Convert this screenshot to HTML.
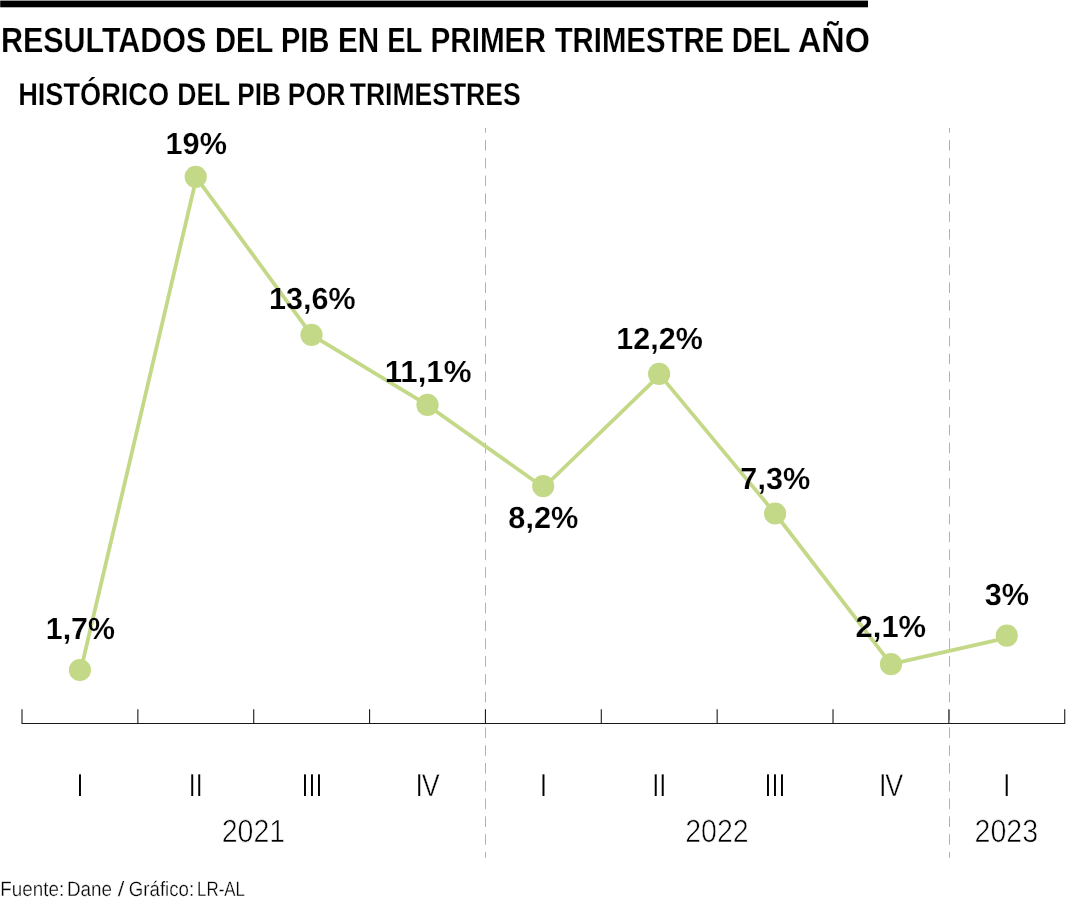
<!DOCTYPE html>
<html lang="es">
<head>
<meta charset="utf-8">
<title>Resultados del PIB en el primer trimestre del año</title>
<style>
html,body{margin:0;padding:0;background:#fff;}
body{width:1080px;height:900px;overflow:hidden;}
svg{display:block;font-family:"Liberation Sans",Arial,sans-serif;text-rendering:geometricPrecision;}
</style>
</head>
<body>
<svg width="1080" height="900" viewBox="0 0 1080 900">
<rect x="0" y="0" width="1080" height="900" fill="#fff"/>
<rect x="0.2" y="0.6" width="867.8" height="6.7" fill="#000"/>
<text y="52.0" font-size="34.88" font-weight="bold" fill="#000" stroke="#fff" stroke-width="0.18"><tspan x="0.95" textLength="205.36" lengthAdjust="spacingAndGlyphs">RESULTADOS</tspan> <tspan x="215.06" textLength="57.8" lengthAdjust="spacingAndGlyphs">DEL</tspan> <tspan x="281.05" textLength="48.29" lengthAdjust="spacingAndGlyphs">PIB</tspan> <tspan x="338.01" textLength="41.07" lengthAdjust="spacingAndGlyphs">EN</tspan> <tspan x="387.18" textLength="34.68" lengthAdjust="spacingAndGlyphs">EL</tspan> <tspan x="430.4" textLength="115.46" lengthAdjust="spacingAndGlyphs">PRIMER</tspan> <tspan x="554.66" textLength="169.48" lengthAdjust="spacingAndGlyphs">TRIMESTRE</tspan> <tspan x="731.64" textLength="58.22" lengthAdjust="spacingAndGlyphs">DEL</tspan> <tspan x="798.0" textLength="71.85" lengthAdjust="spacingAndGlyphs">AÑO</tspan></text>
<text y="104.6" font-size="31.69" font-weight="bold" fill="#000" stroke="#fff" stroke-width="0.18"><tspan x="18.16" textLength="150.96" lengthAdjust="spacingAndGlyphs">HISTÓRICO</tspan> <tspan x="177.22" textLength="52.61" lengthAdjust="spacingAndGlyphs">DEL</tspan> <tspan x="237.23" textLength="43.57" lengthAdjust="spacingAndGlyphs">PIB</tspan> <tspan x="287.8" textLength="57.66" lengthAdjust="spacingAndGlyphs">POR</tspan> <tspan x="349.69" textLength="170.99" lengthAdjust="spacingAndGlyphs">TRIMESTRES</tspan></text>
<line x1="485.5" y1="127.8" x2="485.5" y2="857.8" stroke="#b2b2b2" stroke-width="1" stroke-dasharray="10.6 7.2" stroke-dashoffset="5.6"/>
<line x1="949.5" y1="127.8" x2="949.5" y2="857.8" stroke="#b2b2b2" stroke-width="1" stroke-dasharray="10.6 7.2" stroke-dashoffset="5.6"/>
<path d="M22.0 723.5H1064.74M22.0 709.3V724.0M137.86 709.3V724.0M253.72 709.3V724.0M369.58 709.3V724.0M485.44 709.3V724.0M601.3 709.3V724.0M717.16 709.3V724.0M833.02 709.3V724.0M948.88 709.3V724.0M1064.74 709.3V724.0" fill="none" stroke="#1a1a1a" stroke-width="1.1"/>
<polyline fill="none" stroke="#c4d987" stroke-width="3.8" stroke-linejoin="round" points="80.8,670.0 196.4,177.7 311.5,334.8 427.5,405.2 543.6,487.5 659.9,374.9 775.1,513.5 891.0,664.2 1006.8,637.9"/>
<circle cx="79.9" cy="670.0" r="11.1" fill="#c4d987"/>
<circle cx="195.7" cy="176.8" r="11.1" fill="#c4d987"/>
<circle cx="311.5" cy="334.8" r="11.1" fill="#c4d987"/>
<circle cx="427.5" cy="404.9" r="11.1" fill="#c4d987"/>
<circle cx="543.2" cy="486.1" r="11.1" fill="#c4d987"/>
<circle cx="659.1" cy="373.9" r="11.1" fill="#c4d987"/>
<circle cx="775.1" cy="513.5" r="11.1" fill="#c4d987"/>
<circle cx="891.0" cy="664.2" r="11.1" fill="#c4d987"/>
<circle cx="1006.8" cy="635.6" r="11.1" fill="#c4d987"/>
<text x="45.81" y="638.6" font-size="30.52" font-weight="bold" fill="#000" textLength="69.17" lengthAdjust="spacingAndGlyphs" stroke="#fff" stroke-width="0.18">1,7%</text>
<text x="165.59" y="154.4" font-size="30.52" font-weight="bold" fill="#000" textLength="61.29" lengthAdjust="spacingAndGlyphs" stroke="#fff" stroke-width="0.18">19%</text>
<text x="269.1" y="308.5" font-size="30.52" font-weight="bold" fill="#000" textLength="86.45" lengthAdjust="spacingAndGlyphs" stroke="#fff" stroke-width="0.18">13,6%</text>
<text x="384.65" y="382.0" font-size="30.52" font-weight="bold" fill="#000" textLength="86.81" lengthAdjust="spacingAndGlyphs" stroke="#fff" stroke-width="0.18">11,1%</text>
<text x="508.33" y="528.1" font-size="30.52" font-weight="bold" fill="#000" textLength="70.06" lengthAdjust="spacingAndGlyphs" stroke="#fff" stroke-width="0.18">8,2%</text>
<text x="616.3" y="349.4" font-size="30.52" font-weight="bold" fill="#000" textLength="86.45" lengthAdjust="spacingAndGlyphs" stroke="#fff" stroke-width="0.18">12,2%</text>
<text x="740.37" y="488.6" font-size="30.52" font-weight="bold" fill="#000" textLength="69.82" lengthAdjust="spacingAndGlyphs" stroke="#fff" stroke-width="0.18">7,3%</text>
<text x="855.61" y="636.7" font-size="30.52" font-weight="bold" fill="#000" textLength="70.49" lengthAdjust="spacingAndGlyphs" stroke="#fff" stroke-width="0.18">2,1%</text>
<text x="984.73" y="604.7" font-size="30.52" font-weight="bold" fill="#000" textLength="44.38" lengthAdjust="spacingAndGlyphs" stroke="#fff" stroke-width="0.18">3%</text>
<text y="795.8" font-size="31.5" fill="#000"><tspan x="77.02" textLength="5.96" lengthAdjust="spacingAndGlyphs">I</tspan></text>
<text y="795.8" font-size="31.5" fill="#000"><tspan x="189.32" textLength="5.96" lengthAdjust="spacingAndGlyphs">I</tspan><tspan x="196.32" textLength="5.96" lengthAdjust="spacingAndGlyphs">I</tspan></text>
<text y="795.8" font-size="31.5" fill="#000"><tspan x="301.92" textLength="5.96" lengthAdjust="spacingAndGlyphs">I</tspan><tspan x="308.92" textLength="5.96" lengthAdjust="spacingAndGlyphs">I</tspan><tspan x="315.92" textLength="5.96" lengthAdjust="spacingAndGlyphs">I</tspan></text>
<text y="795.8" font-size="31.5" fill="#000"><tspan x="416.32" textLength="5.96" lengthAdjust="spacingAndGlyphs">I</tspan><tspan x="421.73" textLength="17.94" lengthAdjust="spacingAndGlyphs" stroke="#fff" stroke-width="0.5">V</tspan></text>
<text y="795.8" font-size="31.5" fill="#000"><tspan x="540.42" textLength="5.96" lengthAdjust="spacingAndGlyphs">I</tspan></text>
<text y="795.8" font-size="31.5" fill="#000"><tspan x="652.72" textLength="5.96" lengthAdjust="spacingAndGlyphs">I</tspan><tspan x="659.72" textLength="5.96" lengthAdjust="spacingAndGlyphs">I</tspan></text>
<text y="795.8" font-size="31.5" fill="#000"><tspan x="765.12" textLength="5.96" lengthAdjust="spacingAndGlyphs">I</tspan><tspan x="772.12" textLength="5.96" lengthAdjust="spacingAndGlyphs">I</tspan><tspan x="779.12" textLength="5.96" lengthAdjust="spacingAndGlyphs">I</tspan></text>
<text y="795.8" font-size="31.5" fill="#000"><tspan x="879.72" textLength="5.96" lengthAdjust="spacingAndGlyphs">I</tspan><tspan x="885.13" textLength="17.94" lengthAdjust="spacingAndGlyphs" stroke="#fff" stroke-width="0.5">V</tspan></text>
<text y="795.8" font-size="31.5" fill="#000"><tspan x="1003.82" textLength="5.96" lengthAdjust="spacingAndGlyphs">I</tspan></text>
<text x="221.66" y="842.3" font-size="32.12" font-weight="normal" fill="#000" textLength="63.51" lengthAdjust="spacingAndGlyphs" stroke="#fff" stroke-width="0.65">2021</text>
<text x="685.26" y="842.3" font-size="32.12" font-weight="normal" fill="#000" textLength="63.45" lengthAdjust="spacingAndGlyphs" stroke="#fff" stroke-width="0.65">2022</text>
<text x="974.56" y="842.3" font-size="32.12" font-weight="normal" fill="#000" textLength="63.56" lengthAdjust="spacingAndGlyphs" stroke="#fff" stroke-width="0.65">2023</text>
<text y="896.3" font-size="20.78" font-weight="normal" fill="#000" stroke="#fff" stroke-width="0.3"><tspan x="0.35" textLength="63.78" lengthAdjust="spacingAndGlyphs">Fuente:</tspan> <tspan x="66.95" textLength="45.03" lengthAdjust="spacingAndGlyphs">Dane</tspan> <tspan x="117.86" textLength="6.65" lengthAdjust="spacingAndGlyphs">/</tspan> <tspan x="128.81" textLength="65.35" lengthAdjust="spacingAndGlyphs">Gráfico:</tspan> <tspan x="197.11" textLength="47.91" lengthAdjust="spacingAndGlyphs">LR-AL</tspan></text>
</svg>
</body>
</html>
